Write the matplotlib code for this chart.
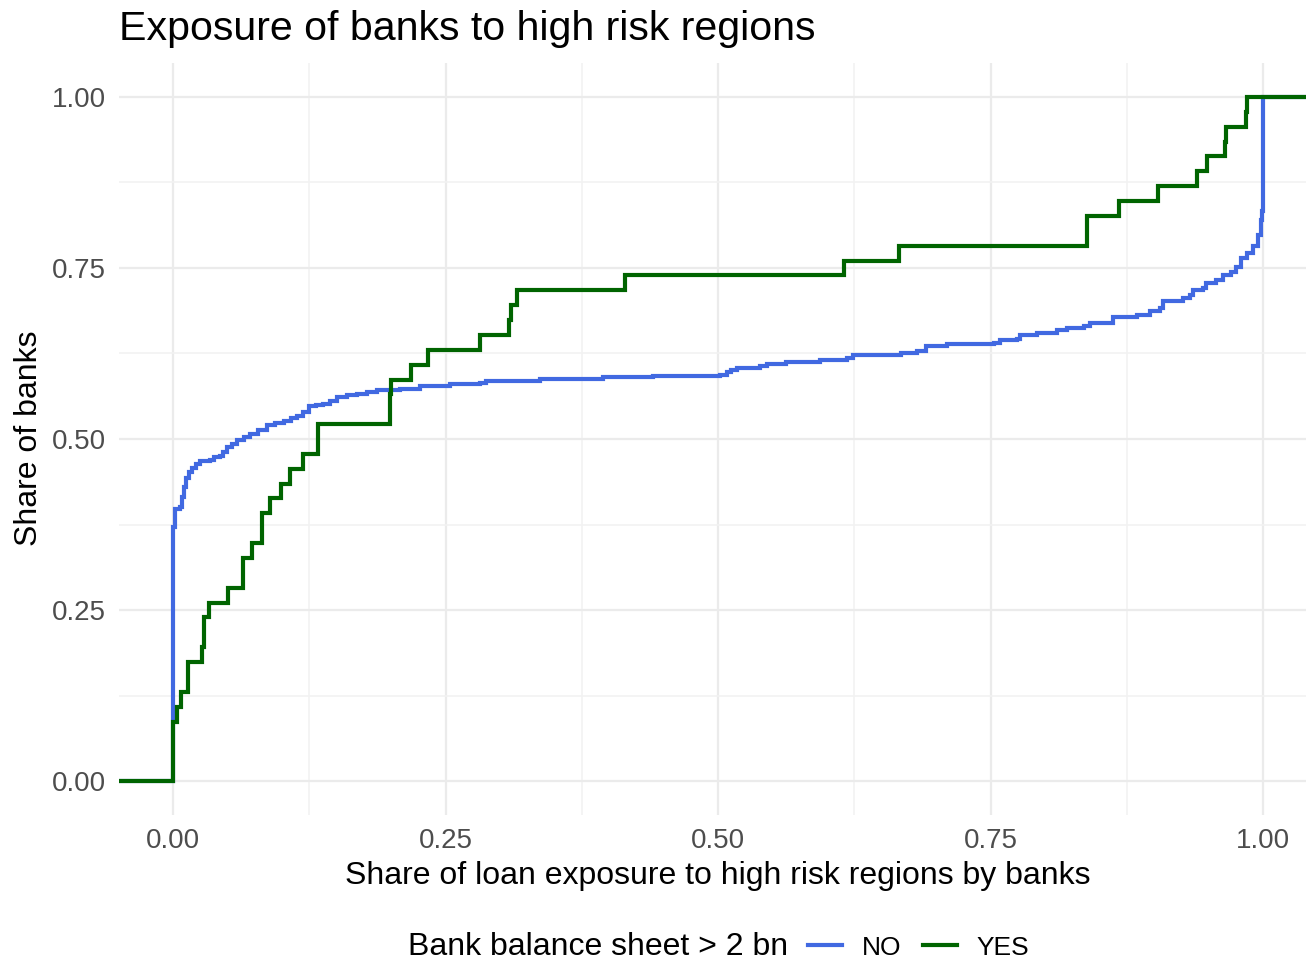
import numpy as np
import matplotlib
matplotlib.use("Agg")
import matplotlib.pyplot as plt
from matplotlib.lines import Line2D

plt.rcParams['font.family'] = ['Liberation Sans', 'DejaVu Sans']

# ---------------- data ----------------
title = "Exposure of banks to high risk regions"
x_label = "Share of loan exposure to high risk regions by banks"
y_label = "Share of banks"
legend_title = "Bank balance sheet > 2 bn"
group_labels = ["NO", "YES"]
group_colors = ["#4169E1", "#006400"]

# NO group: ECDF knots (exposure share, cumulative share of banks)
no_x = [0.0, 0.002, 0.0067, 0.008, 0.0098, 0.012, 0.0145, 0.0174, 0.021, 0.025,
        0.034, 0.038, 0.043, 0.046, 0.0496, 0.054, 0.059, 0.065, 0.071, 0.078,
        0.086, 0.094, 0.1016, 0.108, 0.114, 0.119, 0.1245, 0.131, 0.138, 0.144,
        0.150, 0.160, 0.169, 0.178, 0.187, 0.208, 0.2265, 0.254, 0.2815, 0.2876,
        0.3365, 0.3947, 0.4405, 0.5017, 0.5078, 0.512, 0.517, 0.5384, 0.5445, 0.5628,
        0.5934, 0.6179, 0.624, 0.6677, 0.683, 0.6905, 0.7104, 0.753, 0.759, 0.774,
        0.777, 0.7927, 0.811, 0.820, 0.8354, 0.8415, 0.8628, 0.884, 0.8963, 0.9055,
        0.9085, 0.9268, 0.933, 0.936, 0.945, 0.948, 0.9573, 0.9634, 0.971, 0.9756,
        0.980, 0.985, 0.9909, 0.9954, 0.9985, 0.9995, 1.0]
no_share = [0.372, 0.397, 0.400, 0.415, 0.430, 0.443, 0.452, 0.458, 0.464, 0.468,
            0.470, 0.473, 0.475, 0.481, 0.488, 0.493, 0.499, 0.503, 0.508, 0.513,
            0.520, 0.523, 0.526, 0.530, 0.533, 0.540, 0.548, 0.550, 0.551, 0.556,
            0.561, 0.564, 0.566, 0.569, 0.571, 0.5735, 0.577, 0.580, 0.582, 0.585,
            0.587, 0.590, 0.592, 0.593, 0.598, 0.601, 0.604, 0.606, 0.610, 0.613,
            0.615, 0.619, 0.6225, 0.6262, 0.6286, 0.636, 0.639, 0.641, 0.6447, 0.6466,
            0.6515, 0.655, 0.659, 0.6626, 0.665, 0.669, 0.679, 0.682, 0.687, 0.692,
            0.7015, 0.706, 0.711, 0.718, 0.721, 0.728, 0.733, 0.740, 0.744, 0.752,
            0.7646, 0.772, 0.7816, 0.798, 0.820, 0.833, 1.0]

# YES group: exposure share of each of the 46 large banks
yes_exposure = [0, 0, 0, 0, 0.0037, 0.0073, 0.0138, 0.0138, 0.0266, 0.0288,
                0.0288, 0.0327, 0.050, 0.064, 0.064, 0.0725, 0.0817, 0.0817, 0.089, 0.099,
                0.1077, 0.119, 0.133, 0.133, 0.199, 0.1995, 0.2, 0.2185, 0.234, 0.2815,
                0.308, 0.310, 0.316, 0.4145, 0.616, 0.6657, 0.8385, 0.8385, 0.8675, 0.904,
                0.939, 0.949, 0.965, 0.966, 0.984, 0.985]

x_ticks = [0.0, 0.25, 0.5, 0.75, 1.0]
x_tick_labels = ["0.00", "0.25", "0.50", "0.75", "1.00"]
y_ticks = [0.0, 0.25, 0.5, 0.75, 1.0]
y_tick_labels = ["0.00", "0.25", "0.50", "0.75", "1.00"]

# ---------------- figure ----------------
W, H = 1306, 963
fig = plt.figure(figsize=(W / 100, H / 100), dpi=100)
fig.patch.set_facecolor("white")

left_px, right_px, top_px, bottom_px = 118.5, 1317.5, 62.8, 815.2
ax = fig.add_axes([left_px / W, 1 - bottom_px / H, (right_px - left_px) / W, (bottom_px - top_px) / H])
xmin, xmax = -0.05, 1.05
ymin, ymax = -0.05, 1.05
ax.set_xlim(xmin, xmax)
ax.set_ylim(ymin, ymax)
ax.set_facecolor("white")
for s in ax.spines.values():
    s.set_visible(False)

# grid
ax.set_xticks(x_ticks)
ax.set_xticklabels(x_tick_labels)
ax.set_yticks(y_ticks)
ax.set_yticklabels(y_tick_labels)
minor = [0.125, 0.375, 0.625, 0.875]
ax.set_xticks(minor, minor=True)
ax.set_yticks(minor, minor=True)
ax.grid(True, which="major", color="#EBEBEB", linewidth=1.6)
ax.grid(True, which="minor", color="#F2F2F2", linewidth=1.2)
ax.set_axisbelow(True)
ax.tick_params(which="both", length=0)
ax.tick_params(axis="x", pad=9.5, labelsize=20, labelcolor="#4D4D4D")
ax.tick_params(axis="y", pad=9, labelsize=20, labelcolor="#4D4D4D")

lw = 3.0
# NO ECDF
xs = [xmin] + list(no_x) + [xmax]
ys = [0.0] + list(no_share) + [1.0]
ax.step(xs, ys, where="post", color=group_colors[0], linewidth=lw, solid_joinstyle="miter")

# YES ECDF
ys_sorted = np.sort(np.array(yes_exposure, dtype=float))
n = len(ys_sorted)
cum = np.arange(1, n + 1) / n
xs2 = np.concatenate([[xmin], ys_sorted, [xmax]])
ys2 = np.concatenate([[0.0], cum, [1.0]])
ax.step(xs2, ys2, where="post", color=group_colors[1], linewidth=lw, solid_joinstyle="miter")

# texts
fig.text(119 / W, 1 - 40 / H, title, fontsize=29.6, ha="left", va="baseline", color="black")
fig.text(718 / W, 1 - 884 / H, x_label, fontsize=23, ha="center", va="baseline", color="black")
fig.text(29 / W, 1 - 438 / H, y_label, fontsize=23, ha="center", va="center", rotation=90, color="black")

# legend
fig.text(788 / W, 1 - 955 / H, legend_title, fontsize=23, ha="right", va="baseline", color="black")
handles = [Line2D([0], [0], color=c, linewidth=lw) for c in group_colors]
fig.legend(handles, group_labels, loc="center left", bbox_to_anchor=(808 / W, 1 - 947.5 / H),
           ncol=2, frameon=False, fontsize=19, handlelength=1.29, handletextpad=0.76,
           columnspacing=0.8, borderpad=0, borderaxespad=0)

fig.savefig("out.png", dpi=100, facecolor="white")
